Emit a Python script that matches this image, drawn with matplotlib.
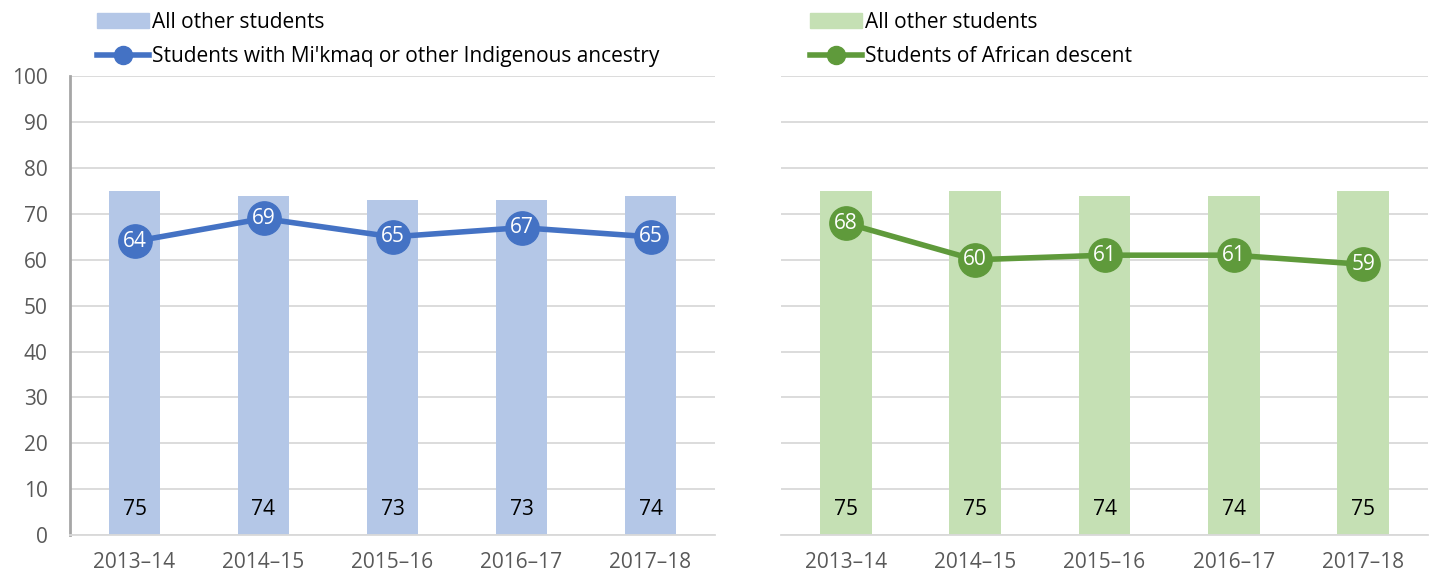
import numpy as np
import matplotlib.pyplot as plt
from matplotlib.lines import Line2D
from matplotlib.patches import Patch

years = ['2013–14', '2014–15', '2015–16', '2016–17', '2017–18']
other_left = [75, 74, 73, 73, 74]
indigenous = [64, 69, 65, 67, 65]
other_right = [75, 75, 74, 74, 75]
african = [68, 60, 61, 61, 59]

plt.rcParams['font.family'] = ['Open Sans', 'DejaVu Sans']

fig = plt.figure(figsize=(14.31, 5.77), dpi=100)
ax1 = fig.add_axes([70 / 1431, 0.0728, 645 / 1431, 0.795])
ax2 = fig.add_axes([781 / 1431, 0.0728, 647 / 1431, 0.795])


def draw(ax, bars, line, bar_color, line_color, bar_label, line_label, show_y, leg_x):
    x = np.arange(len(years))
    ax.bar(x, bars, width=0.40, color=bar_color, zorder=2)
    ax.plot(x, line, color=line_color, lw=4, marker='o', ms=24, zorder=3)
    for xi, b in zip(x, bars):
        ax.text(xi, 5.5, str(b), ha='center', va='center', fontsize=15, color='black', zorder=4)
    for xi, v in zip(x, line):
        ax.text(xi, v, str(v), ha='center', va='center', fontsize=15, color='white', zorder=4)
    ax.set_xlim(-0.5, 4.5)
    ax.set_ylim(0, 100)
    ax.set_yticks(range(0, 101, 10))
    ax.set_xticks(x)
    ax.set_xticklabels(years)
    ax.grid(axis='y', color='#d9d9d9', lw=1.3, zorder=0)
    ax.set_axisbelow(True)
    for s in ['top', 'right']:
        ax.spines[s].set_visible(False)
    ax.spines['bottom'].set_color('#d9d9d9')
    ax.spines['bottom'].set_linewidth(1.3)
    if show_y:
        ax.spines['left'].set_color('#a6a6a6')
        ax.spines['left'].set_linewidth(2)
    else:
        ax.spines['left'].set_visible(False)
        ax.set_yticklabels([])
    ax.tick_params(length=0, labelsize=15, colors='#595959', pad=12)
    ax.tick_params(axis='y', pad=16)
    handles = [Patch(color=bar_color),
               Line2D([0], [0], color=line_color, lw=4, marker='o', ms=13)]
    fig.legend(handles, [bar_label, line_label], loc='upper left',
               bbox_to_anchor=(leg_x, 0.98), frameon=False, fontsize=15,
               handlelength=2.5, handletextpad=0.15, labelspacing=0.65,
               borderaxespad=0, borderpad=0)


draw(ax1, other_left, indigenous, '#b4c7e7', '#4472c4', 'All other students',
     "Students with Mi'kmaq or other Indigenous ancestry", True, 97 / 1431)
draw(ax2, other_right, african, '#c5e0b4', '#5f9a3b', 'All other students',
     'Students of African descent', False, 810 / 1431)

fig.savefig('out.png', dpi=100)
